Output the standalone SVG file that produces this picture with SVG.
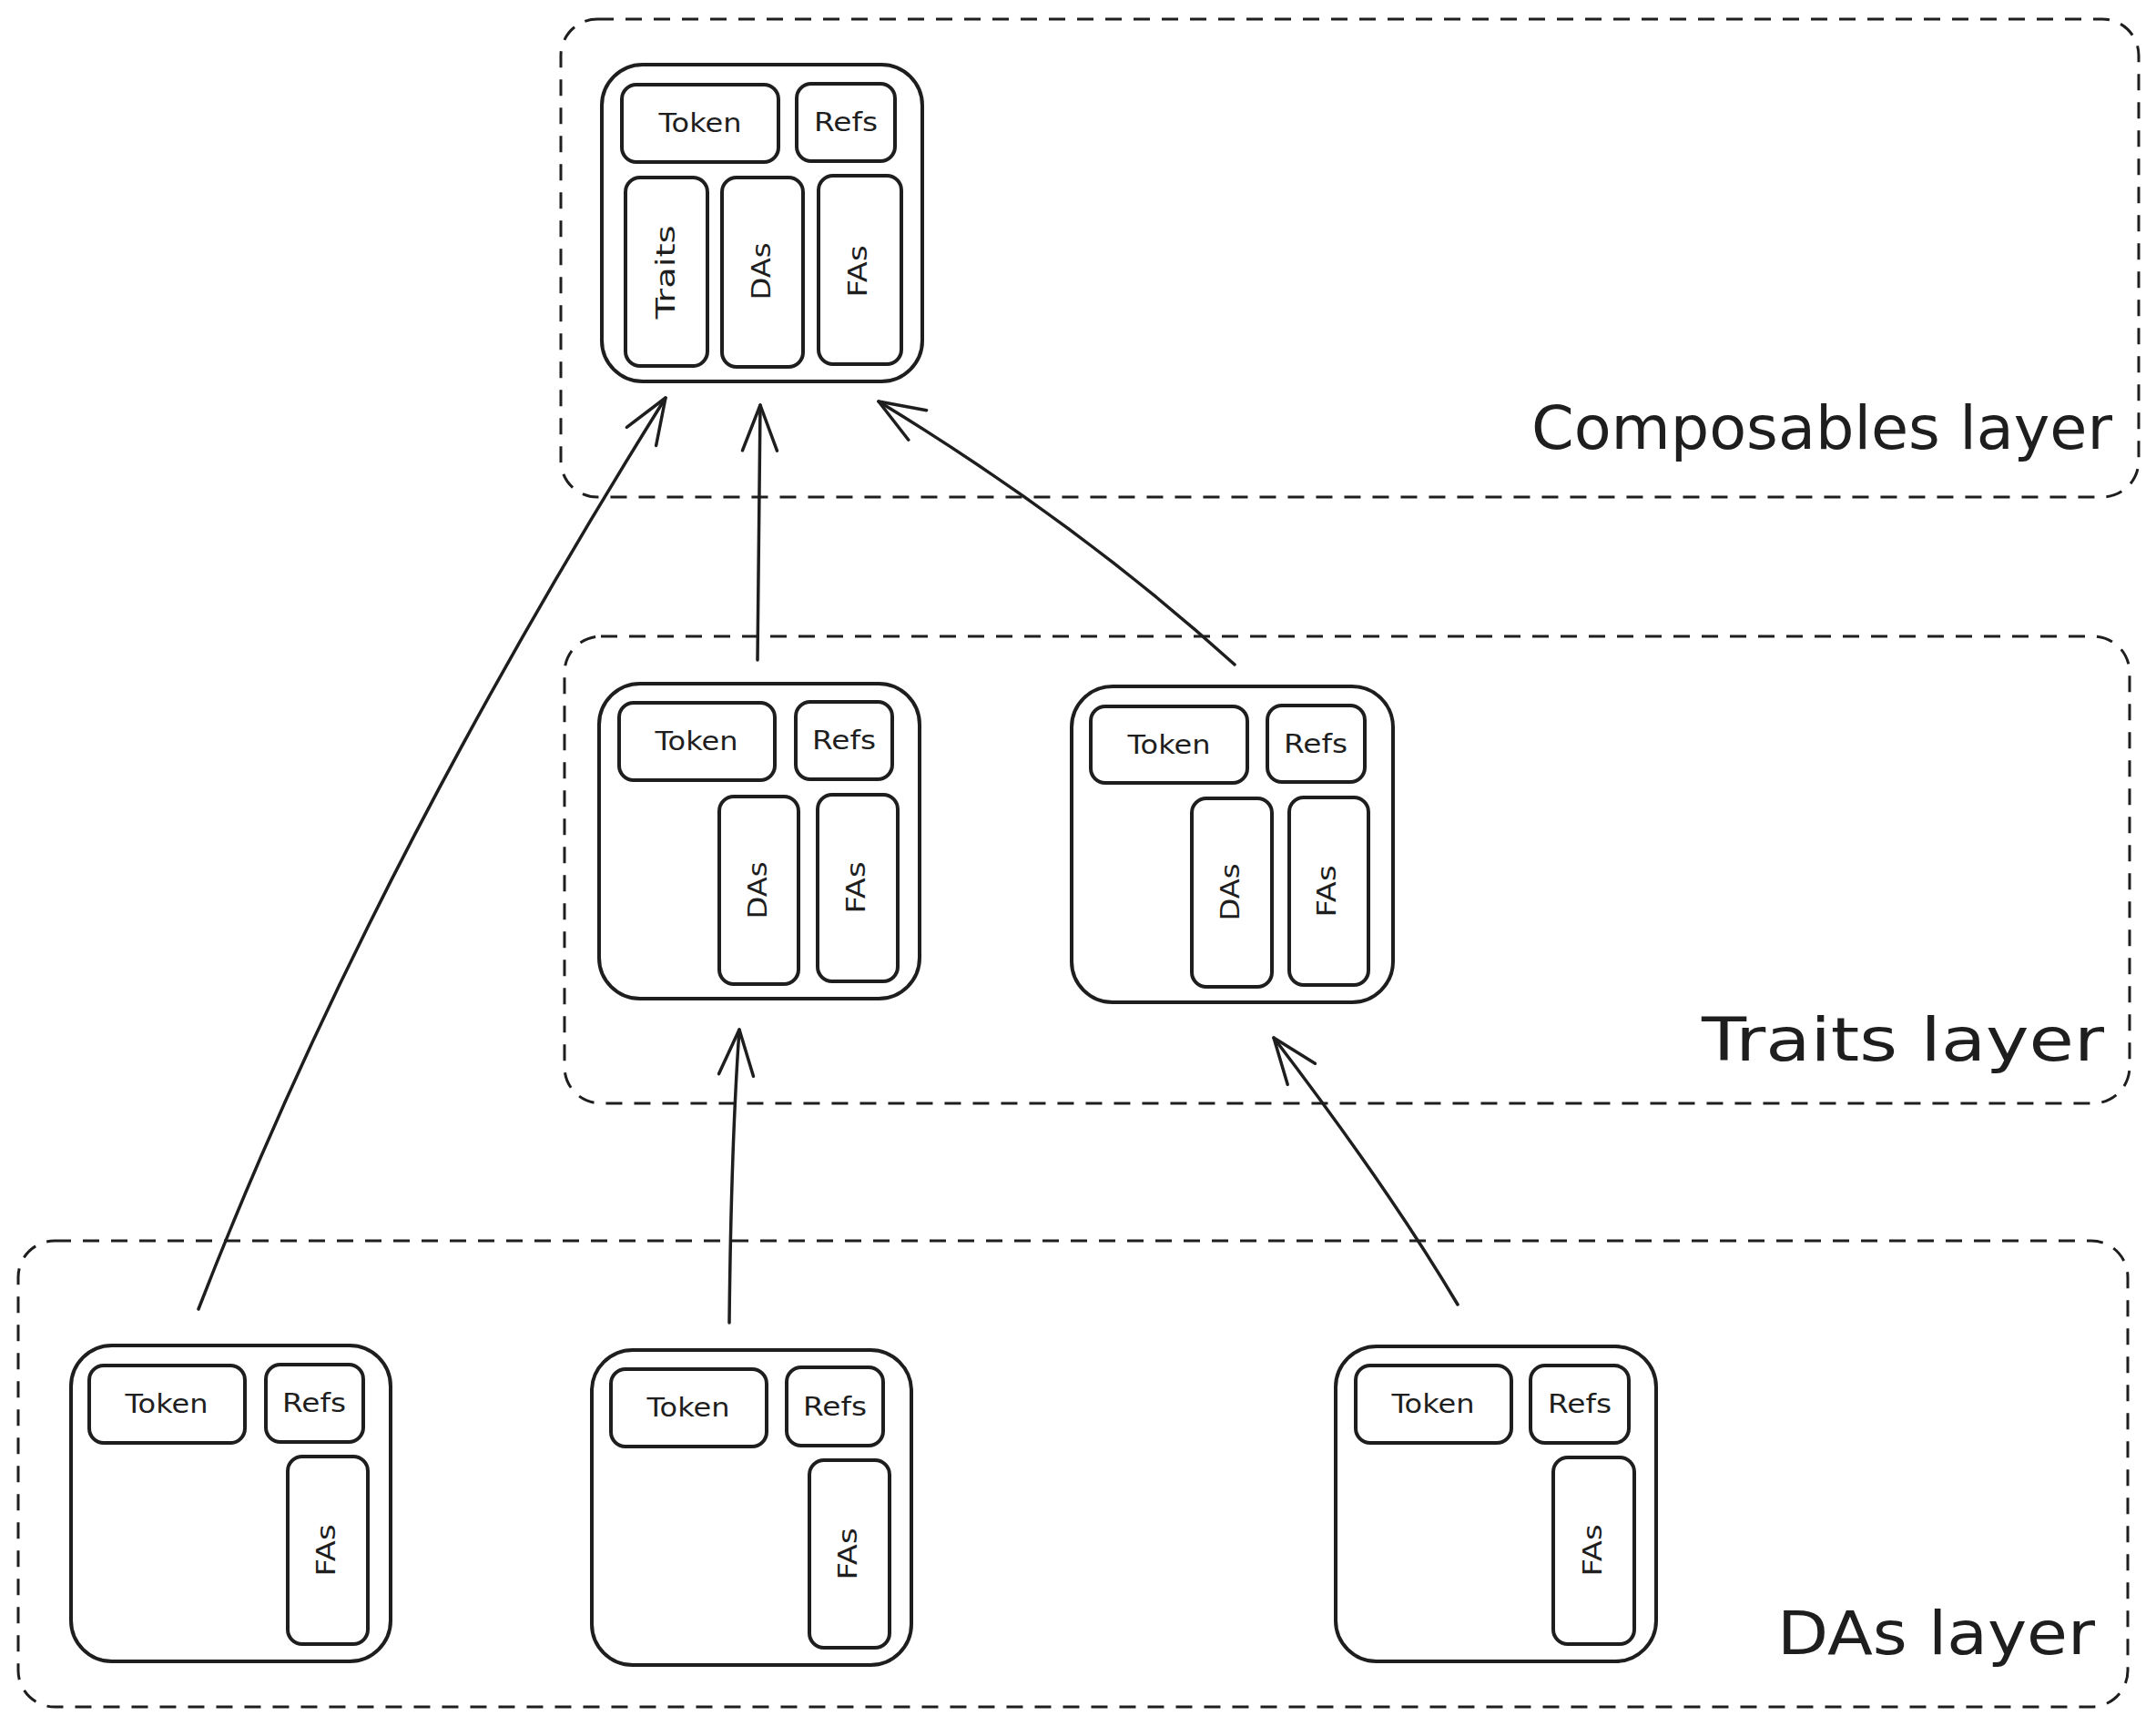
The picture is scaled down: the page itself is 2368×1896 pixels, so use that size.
<svg xmlns="http://www.w3.org/2000/svg" width="2368" height="1896" viewBox="0 0 2368 1896">
<defs>
<style>
.layer{fill:none;stroke:#1e1e1e;stroke-width:3;stroke-dasharray:18 13}
.outer{fill:none;stroke:#1e1e1e;stroke-width:4}
.inner{fill:none;stroke:#1e1e1e;stroke-width:4}
.lbl{font-family:"DejaVu Sans","Liberation Sans",sans-serif;font-size:28px;fill:#1e1e1e;text-anchor:middle;dominant-baseline:central}
.big{font-family:"DejaVu Sans","Liberation Sans",sans-serif;font-size:66px;fill:#1e1e1e;text-anchor:end}
.conn{fill:none;stroke:#1e1e1e;stroke-width:3.5;stroke-linecap:round;marker-end:url(#ah)}
</style>
<marker id="ah" markerUnits="userSpaceOnUse" markerWidth="80" markerHeight="80" viewBox="-60 -40 80 80" refX="0" refY="0" orient="auto" overflow="visible">
<path d="M-50,-19 L0,0 L-50,19" fill="none" stroke="#1e1e1e" stroke-width="3.5" stroke-linecap="round" stroke-linejoin="round"/>
</marker>
</defs>
<rect width="2368" height="1896" fill="#ffffff"/>

<g id="layer-composables">
<rect class="layer" x="616" y="21" width="1733" height="525" rx="40"/>
<text class="big" x="2320" y="493" textLength="638" lengthAdjust="spacingAndGlyphs">Composables layer</text>
</g>
<g id="layer-traits">
<rect class="layer" x="620" y="699" width="1719" height="513" rx="40"/>
<text class="big" x="2311" y="1165" textLength="442" lengthAdjust="spacingAndGlyphs">Traits layer</text>
</g>
<g id="layer-das">
<rect class="layer" x="20" y="1363" width="2317" height="512" rx="40"/>
<text class="big" x="2301" y="1817" textLength="349" lengthAdjust="spacingAndGlyphs">DAs layer</text>
</g>

<g id="composable">
<rect class="outer" x="661" y="71" width="352" height="348" rx="45"/>
<rect class="inner" x="683" y="93" width="172" height="85" rx="16"/>
<text class="lbl" x="769" y="135" textLength="91" lengthAdjust="spacingAndGlyphs">Token</text>
<rect class="inner" x="875" y="92" width="108" height="85" rx="16"/>
<text class="lbl" x="929" y="134" textLength="70" lengthAdjust="spacingAndGlyphs">Refs</text>
<rect class="inner" x="687" y="195" width="90" height="207" rx="16"/>
<text class="lbl" transform="translate(731,299) rotate(-90)" textLength="103" lengthAdjust="spacingAndGlyphs">Traits</text>
<rect class="inner" x="793" y="195" width="89" height="208" rx="16"/>
<text class="lbl" transform="translate(836,298) rotate(-90)" textLength="63" lengthAdjust="spacingAndGlyphs">DAs</text>
<rect class="inner" x="899" y="193" width="91" height="207" rx="16"/>
<text class="lbl" transform="translate(942,298) rotate(-90)" textLength="57" lengthAdjust="spacingAndGlyphs">FAs</text>
</g>

<g id="trait1">
<rect class="outer" x="658" y="751" width="352" height="346" rx="45"/>
<rect class="inner" x="680" y="772" width="171" height="85" rx="16"/>
<text class="lbl" x="765" y="814" textLength="91" lengthAdjust="spacingAndGlyphs">Token</text>
<rect class="inner" x="874" y="771" width="106" height="85" rx="16"/>
<text class="lbl" x="927" y="813" textLength="70" lengthAdjust="spacingAndGlyphs">Refs</text>
<rect class="inner" x="790" y="875" width="87" height="206" rx="16"/>
<text class="lbl" transform="translate(832,978) rotate(-90)" textLength="63" lengthAdjust="spacingAndGlyphs">DAs</text>
<rect class="inner" x="898" y="873" width="88" height="205" rx="16"/>
<text class="lbl" transform="translate(940,975) rotate(-90)" textLength="57" lengthAdjust="spacingAndGlyphs">FAs</text>
</g>

<g id="trait2">
<rect class="outer" x="1177" y="754" width="353" height="347" rx="45"/>
<rect class="inner" x="1198" y="776" width="172" height="84" rx="16"/>
<text class="lbl" x="1284" y="818" textLength="91" lengthAdjust="spacingAndGlyphs">Token</text>
<rect class="inner" x="1392" y="775" width="107" height="84" rx="16"/>
<text class="lbl" x="1445" y="817" textLength="70" lengthAdjust="spacingAndGlyphs">Refs</text>
<rect class="inner" x="1309" y="877" width="88" height="207" rx="16"/>
<text class="lbl" transform="translate(1351,980) rotate(-90)" textLength="63" lengthAdjust="spacingAndGlyphs">DAs</text>
<rect class="inner" x="1416" y="876" width="87" height="206" rx="16"/>
<text class="lbl" transform="translate(1457,979) rotate(-90)" textLength="57" lengthAdjust="spacingAndGlyphs">FAs</text>
</g>

<g id="da1">
<rect class="outer" x="78" y="1478" width="351" height="347" rx="45"/>
<rect class="inner" x="98" y="1500" width="171" height="85" rx="16"/>
<text class="lbl" x="183" y="1542" textLength="91" lengthAdjust="spacingAndGlyphs">Token</text>
<rect class="inner" x="292" y="1499" width="107" height="85" rx="16"/>
<text class="lbl" x="345" y="1541" textLength="70" lengthAdjust="spacingAndGlyphs">Refs</text>
<rect class="inner" x="316" y="1600" width="88" height="206" rx="16"/>
<text class="lbl" transform="translate(358,1703) rotate(-90)" textLength="57" lengthAdjust="spacingAndGlyphs">FAs</text>
</g>

<g id="da2">
<rect class="outer" x="650" y="1483" width="351" height="346" rx="45"/>
<rect class="inner" x="671" y="1504" width="171" height="85" rx="16"/>
<text class="lbl" x="756" y="1546" textLength="91" lengthAdjust="spacingAndGlyphs">Token</text>
<rect class="inner" x="864" y="1502" width="106" height="86" rx="16"/>
<text class="lbl" x="917" y="1545" textLength="70" lengthAdjust="spacingAndGlyphs">Refs</text>
<rect class="inner" x="889" y="1604" width="88" height="206" rx="16"/>
<text class="lbl" transform="translate(931,1707) rotate(-90)" textLength="57" lengthAdjust="spacingAndGlyphs">FAs</text>
</g>

<g id="da3">
<rect class="outer" x="1467" y="1479" width="352" height="346" rx="45"/>
<rect class="inner" x="1489" y="1500" width="171" height="85" rx="16"/>
<text class="lbl" x="1574" y="1542" textLength="91" lengthAdjust="spacingAndGlyphs">Token</text>
<rect class="inner" x="1681" y="1500" width="108" height="85" rx="16"/>
<text class="lbl" x="1735" y="1542" textLength="70" lengthAdjust="spacingAndGlyphs">Refs</text>
<rect class="inner" x="1706" y="1601" width="89" height="205" rx="16"/>
<text class="lbl" transform="translate(1749,1703) rotate(-90)" textLength="57" lengthAdjust="spacingAndGlyphs">FAs</text>
</g>

<g id="connectors">
<path class="conn" d="M218,1438 Q401,965 731,437"/>
<path class="conn" d="M832,725 L835,445"/>
<path class="conn" d="M1356,730 Q1185,575 965,441"/>
<path class="conn" d="M801,1453 Q803,1260 812,1131"/>
<path class="conn" d="M1601,1433 Q1527,1308 1399,1140"/>
</g>
</svg>
